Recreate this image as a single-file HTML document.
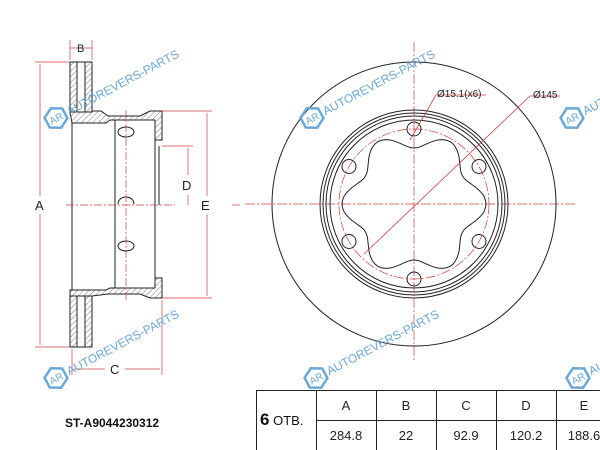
<!DOCTYPE html>
<html><head><meta charset="utf-8"><style>
body{margin:0;background:#fff;width:600px;height:450px;overflow:hidden;font-family:"Liberation Sans",sans-serif}
svg{display:block}
</style></head><body>
<svg width="600" height="450" viewBox="0 0 600 450" xmlns="http://www.w3.org/2000/svg" font-family="Liberation Sans, sans-serif">
<defs>
<pattern id="h" width="4" height="4" patternUnits="userSpaceOnUse" patternTransform="rotate(45)"><line x1="0" y1="0" x2="0" y2="4" stroke="#444" stroke-width="0.7"/></pattern>
<g id="wm"><polygon points="0,-11 10,-5.5 10,5.5 0,11 -10,5.5 -10,-5.5" fill="none" stroke="#6aa8d8" stroke-width="2.5" transform="rotate(-28)"/><text x="-7" y="4" font-size="10" fill="#6aa8d8" transform="rotate(-28)">AR</text><text x="13" y="4" font-size="12" fill="#6aa8d8" transform="rotate(-28)">AUTOREVERS-PARTS</text></g>
</defs>
<g stroke="#222" stroke-width="1" fill="none">
<rect x="70" y="62" width="7" height="50" fill="url(#h)"/>
<rect x="85" y="62" width="7" height="50" fill="url(#h)"/>
<rect x="70" y="296" width="7" height="51" fill="url(#h)"/>
<rect x="85" y="296" width="7" height="51" fill="url(#h)"/>
<line x1="77" y1="62" x2="85" y2="62"/><line x1="77" y1="347" x2="85" y2="347"/>
<path d="M70 112 L92 112 L92 111 L101 111 L108 116 L140 116 L150 111 L162 111 L162 140 L155 140 L155 120 L110 120 L106 123 L72 123 Z" fill="url(#h)"/>
<path d="M70 290 L106 290 L110 288 L155 288 L155 278 L162 278 L162 298 L150 298 L140 294 L108 294 L92 296 L70 296 Z" fill="url(#h)"/>
<line x1="72" y1="123" x2="72" y2="290"/>
<line x1="115" y1="120" x2="115" y2="288"/>
<line x1="155" y1="140" x2="155" y2="278"/>
<line x1="159" y1="146" x2="159" y2="205"/>
<ellipse cx="126" cy="132" rx="8" ry="5"/>
<ellipse cx="126" cy="246" rx="8" ry="5"/>
<path d="M118 204 A8 7 0 0 1 134 204"/>
</g>
<g stroke="#d04040" stroke-width="0.7" fill="none">
<line x1="66" y1="205" x2="175" y2="205" stroke-dasharray="8,2,2,2"/>
<line x1="126" y1="110" x2="126" y2="300" stroke-dasharray="8,2,2,2"/>
<line x1="35" y1="62" x2="70" y2="62"/><line x1="35" y1="347" x2="70" y2="347"/>
<line x1="40" y1="64" x2="40" y2="196"/><line x1="40" y1="214" x2="40" y2="345"/>
<line x1="162" y1="111" x2="212" y2="111"/><line x1="162" y1="298" x2="212" y2="298"/>
<line x1="207" y1="113" x2="207" y2="196"/><line x1="207" y1="214" x2="207" y2="296"/>
<line x1="162" y1="146" x2="193" y2="146"/>
<line x1="188" y1="148" x2="188" y2="175"/><line x1="188" y1="195" x2="188" y2="205"/>
<line x1="70" y1="40" x2="70" y2="60"/><line x1="92" y1="40" x2="92" y2="60"/>
<line x1="70" y1="48" x2="92" y2="48"/>
<line x1="72" y1="349" x2="72" y2="375"/><line x1="162" y1="300" x2="162" y2="375"/>
<line x1="74" y1="369" x2="105" y2="369"/><line x1="125" y1="369" x2="160" y2="369"/>
<line x1="232" y1="205" x2="240" y2="205"/>
</g>
<g fill="#222" font-size="13">
<text x="35" y="210">A</text><text x="201" y="210">E</text><text x="182" y="190">D</text>
<text x="110" y="374">C</text><text x="77" y="52" font-size="11">B</text>
</g>
<g stroke="#d04040" stroke-width="0.7" fill="none" stroke-dasharray="10,2,2,2">
<line x1="245" y1="204" x2="575" y2="204"/><line x1="414" y1="42" x2="414" y2="360"/>
<circle cx="414" cy="204" r="75"/>
</g>
<g stroke="#222" stroke-width="1" fill="none">
<circle cx="414" cy="204" r="142"/>
<circle cx="414" cy="204" r="94"/><circle cx="414" cy="204" r="91"/>
<circle cx="414" cy="204" r="88"/><circle cx="414" cy="204" r="84"/>
<circle cx="414" cy="129" r="7"/><circle cx="414" cy="279" r="7"/>
<circle cx="479" cy="166.5" r="7"/><circle cx="349" cy="166.5" r="7"/>
<circle cx="479" cy="241.5" r="7"/><circle cx="349" cy="241.5" r="7"/>
<path id="star" d=""/>
</g>
<g stroke="#d04040" stroke-width="0.8" fill="none">
<line x1="364" y1="254" x2="530" y2="96"/><line x1="530" y1="96" x2="560" y2="96"/>
<line x1="410" y1="140" x2="436" y2="95"/><line x1="436" y1="95" x2="486" y2="95"/>
</g>
<g fill="#222" font-size="10"><text x="437" y="97">Ø15.1(x6)</text><text x="533" y="98">Ø145</text></g>
<use href="#wm" x="56" y="118"/><use href="#wm" x="312" y="118"/><use href="#wm" x="572" y="118"/>
<use href="#wm" x="56" y="378"/><use href="#wm" x="316" y="378"/><use href="#wm" x="578" y="378"/>
<g stroke="#222" stroke-width="1" fill="none">
<rect x="256.5" y="390.5" width="350" height="70"/>
<line x1="316.5" y1="390" x2="316.5" y2="450"/><line x1="376.5" y1="390" x2="376.5" y2="450"/>
<line x1="436.5" y1="390" x2="436.5" y2="450"/><line x1="496.5" y1="390" x2="496.5" y2="450"/>
<line x1="556.5" y1="390" x2="556.5" y2="450"/><line x1="316" y1="420.5" x2="600" y2="420.5"/>
</g>
<g fill="#222" font-size="13" text-anchor="middle">
<text x="346" y="410">A</text><text x="406" y="410">B</text><text x="466" y="410">C</text><text x="526" y="410">D</text><text x="584" y="410">E</text>
<text x="346" y="440">284.8</text><text x="406" y="440">22</text><text x="466" y="440">92.9</text><text x="526" y="440">120.2</text><text x="584" y="440">188.6</text>
</g>
<text x="260" y="425" font-size="13" fill="#111"><tspan font-weight="bold" font-size="17">6</tspan> ОТВ.</text>
<text x="65" y="427" font-size="12" font-weight="bold" fill="#111">ST-A9044230312</text>
</svg>
<script>
var d="";for(var i=0;i<=360;i+=3){var t=i*Math.PI/180;var r=64+8*Math.cos(6*t);var x=414+r*Math.cos(t),y=204-r*Math.sin(t);d+=(i?"L":"M")+x.toFixed(1)+" "+y.toFixed(1);}document.getElementById("star").setAttribute("d",d+"Z");
</script>
</body></html>
